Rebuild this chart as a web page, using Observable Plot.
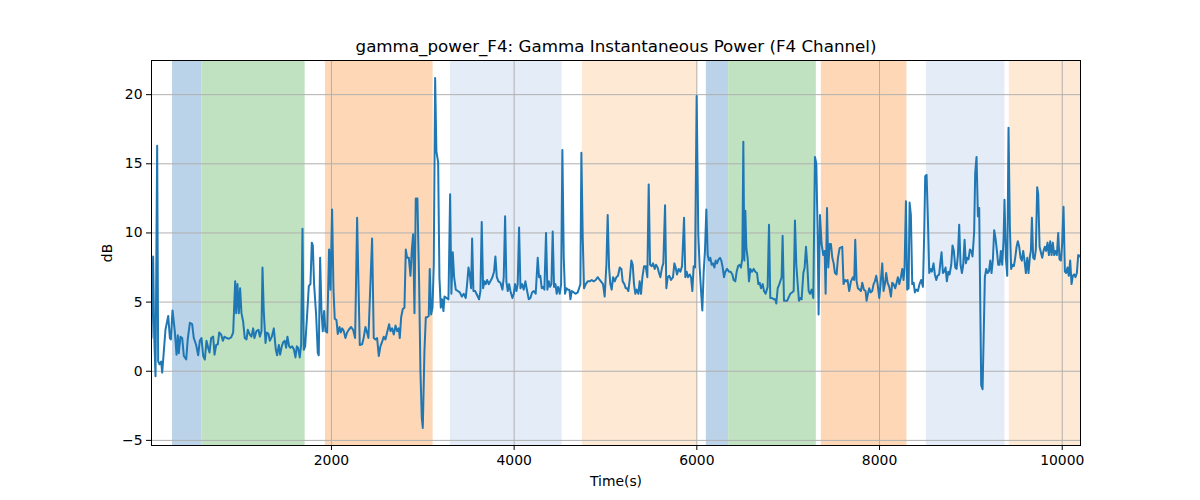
<!DOCTYPE html>
<html><head><meta charset="utf-8">
<script src="https://cdn.jsdelivr.net/npm/d3@7"></script>
<script src="https://cdn.jsdelivr.net/npm/@observablehq/plot@0.6"></script>
<style>html,body{margin:0;padding:0;background:#fff;}</style>
</head><body><div id="chart"></div>
<script>
const titleText = "gamma_power_F4: Gamma Instantaneous Power (F4 Channel)";
const xLabel = "Time(s)";
const yLabel = "dB";
const xTicks = [2000, 4000, 6000, 8000, 10000];
const yTicks = [-5, 0, 5, 10, 15, 20];

const times = [30,48,59,74,92,103,118,136,147,165,183,213,231,242,260,285,304,318,329,347,366,384,410,428,450,475,493,519,541,559,577,596,614,632,650,665,683,705,720,738,756,771,793,811,829,851,876,902,924,946,957,971,986,1000,1015,1033,1051,1070,1084,1106,1124,1143,1157,1179,1201,1216,1234,1245,1259,1278,1292,1311,1325,1347,1369,1391,1405,1424,1438,1456,1471,1489,1504,1518,1537,1551,1569,1588,1606,1621,1635,1653,1668,1683,1697,1712,1734,1752,1770,1785,1796,1810,1832,1850,1861,1876,1891,1905,1920,1934,1953,1974,1989,2007,2022,2036,2055,2069,2088,2102,2117,2135,2153,2171,2190,2215,2237,2259,2281,2292,2310,2336,2354,2372,2390,2405,2420,2445,2463,
2482,2500,2518,2536,2558,2573,2591,2609,2631,2646,2664,2682,2701,2719,2737,2748,2763,2781,2799,2814,2828,2847,2865,2879,2894,2909,2923,2941,2960,2974,2989,3000,3018,3033,3047,3065,3076,3091,3106,3120,3135,3149,3168,3182,3197,3211,3226,3237,3259,3281,3299,3313,3328,3343,3361,3383,3405,3427,3448,3470,3485,3500,3514,3529,3540,3554,3573,3587,3602,3616,3631,3645,3660,3675,3689,3704,3722,3740,3762,3780,3795,3810,3828,3850,3872,3886,3901,3915,3930,3945,3959,3981,3996,4010,4025,4039,4054,4069,4087,4105,4123,4142,4160,4178,4196,4215,4236,4258,4273,4287,4302,4317,4331,4349,4364,4379,4393,4408,4422,4437,4452,4466,4481,4499,4514,4528,4543,4557,4572,4587,4605,4616,4630,4652,4674,4696,4711,4725,4736,4751,4765,4784,4805,4827,4849,4871,4893,4915,4937,
4973,4991,5010,5024,5039,5053,5068,5083,5101,5119,5137,5156,5174,5188,5207,5221,5236,5250,5265,5283,5298,5312,5327,5342,5360,5374,5389,5404,5422,5440,5458,5473,5488,5506,5520,5539,5553,5571,5586,5601,5619,5633,5652,5666,5681,5699,5717,5739,5754,5768,5783,5801,5820,5838,5860,5874,5889,5903,5922,5936,5951,5965,5980,5998,6016,6031,6046,6060,6075,6089,6104,6119,6133,6148,6162,6177,6192,6206,6221,6239,6254,6268,6283,6297,6312,6330,6352,6370,6389,6403,6421,6436,6451,6469,6483,6498,6509,6520,6531,6542,6556,6571,6586,6604,6622,6640,6659,6673,6688,6702,6721,6735,6753,6775,6790,6804,6823,6841,6859,6870,6885,6903,6918,6928,6939,6954,6972,6990,7009,7023,7042,7060,7074,7089,7104,7118,7133,7147,7166,7180,7195,7209,7224,7239,7257,7275,7293,7308,7322,7333,7348,7366,7384,7399,7410,7425,7439,7454,7468,7483,7498,7512,7530,7545,7563,
7592,7606,7621,7636,7650,7668,7687,7709,7723,7734,7749,7763,7782,7796,7811,7829,7847,7858,7873,7887,7902,7920,7935,7949,7964,7979,7997,8011,8030,8044,8059,8073,8088,8106,8125,8139,8154,8172,8187,8201,8216,8234,8249,8263,8274,8289,8303,8318,8329,8343,8358,8373,8387,8402,8420,8438,8456,8475,8489,8500,8515,8529,8544,8559,8573,8591,8606,8621,8635,8653,8668,8679,8694,8708,8723,8737,8752,8767,8785,8799,8814,8829,8843,8858,8872,8887,8902,8916,8931,8945,8960,8974,8989,9004,9018,9036,9047,9062,9077,9091,9102,9113,9128,9139,9153,9168,9182,9197,9212,9226,9241,9255,9270,9285,9299,9314,9328,9343,9358,9368,9383,9398,9412,9427,9441,9456,9471,9485,9500,9514,9529,9544,9558,9573,9587,9602,9617,9631,9646,9657,9668,9682,9697,9711,9726,9737,9752,9766,9781,9795,9810,9824,9839,9854,9868,9883,9897,9912,9927,9941,9956,9970,9985,9999,10014,10029,10043,10058,10072,10087,10102,10116,10131,10145,10160,10175,10189,10200];

const dB = [2.4,8.3,2.7,-0.36,16.3,0.72,0.5,0.7,-0.1,1.45,3.0,4.0,2.4,2.3,4.4,2.9,1.2,2.6,1.3,2.5,2.4,1.1,0.85,2.4,3.5,3.4,2.4,1.9,1.15,2.2,2.4,1.1,0.85,2.2,1.7,1.35,2.4,2.5,1.2,1.9,1.95,2.8,2.65,2.2,2.5,2.4,2.35,2.45,2.8,6.5,4.2,6.3,4.2,6.0,4.2,3.6,2.4,2.3,3.0,2.65,2.5,3.1,2.4,2.9,3.0,2.5,2.9,7.5,4.35,2.05,2.8,2.7,2.2,2.5,3.1,1.55,1.15,1.9,1.2,1.8,2.1,2.2,1.7,2.5,1.8,1.7,1.8,1.6,1.0,1.8,1.7,1.0,1.9,10.3,1.55,1.8,4.1,6.15,6.3,9.3,9.1,6.3,4.1,1.35,1.15,8.2,4.35,2.9,4.35,2.9,2.8,8.8,5.9,11.7,5.9,3.8,3.7,2.7,3.2,2.8,3.1,2.9,2.4,2.8,3.0,3.2,3.0,2.4,11.1,7.5,1.9,1.95,2.45,3.2,2.8,2.4,5.2,9.6,2.4,
2.3,2.4,1.1,1.8,2.2,2.5,2.3,2.8,3.4,2.9,3.1,2.65,3.3,2.9,3.1,2.4,3.9,4.5,4.6,8.8,8.2,8.2,6.9,8.7,9.9,4.2,12.5,12.5,6.3,0,-3.4,-4.1,1.45,3.9,3.9,4.0,7.4,4.1,4.6,7.7,21.2,15.9,15.1,6.8,4.6,5.2,4.35,5.4,5.3,5.2,12.8,5.6,8.6,6.8,5.9,5.8,5.7,5.4,5.6,5.3,6.3,7.5,7.0,6.0,9.6,5.8,5.8,5.6,5.4,5.2,5.8,10.8,6.0,6.5,6.3,6.6,6.3,6.5,6.8,7.2,8.3,6.8,6.5,6.4,5.9,6.8,11.2,6.5,5.8,6.3,5.8,5.3,5.6,6.3,5.8,6.3,10.4,6.0,6.3,5.9,6.5,5.8,5.2,5.3,5.7,5.8,5.6,8.2,6.8,6.9,6.0,6.1,5.9,10.0,5.9,6.5,6.1,6.3,10.1,6.1,6.3,5.6,6.1,5.6,6.3,16.0,8.2,5.6,6.0,5.9,5.9,5.2,5.8,5.7,5.6,5.7,6.0,6.3,15.8,9.6,6.0,6.3,6.5,6.5,6.6,6.5,6.6,6.8,6.6,
6.3,5.4,7.7,11.3,7.5,6.3,5.9,6.8,6.5,6.8,6.9,7.5,7.4,6.5,6.3,6.0,6.0,5.8,6.6,8.0,7.7,6.3,5.6,5.9,5.6,6.5,5.6,6.8,7.6,7.6,6.8,13.5,7.7,7.6,7.8,7.4,7.7,7.5,7.1,6.8,7.5,7.8,12.0,6.0,6.8,6.9,6.6,6.8,7.8,7.5,7.0,7.4,7.2,7.6,11.1,6.8,7.2,6.8,7.0,6.8,5.8,7.6,7.5,19.9,9.9,7.5,5.8,4.4,7.2,8.7,11.7,8.4,8.0,8.2,7.7,7.8,7.5,8.0,7.8,8.1,8.2,8.0,7.5,6.8,7.2,7.4,7.2,7.2,7.0,6.6,6.5,7.2,7.6,7.7,7.5,8.2,16.6,8.0,11.6,8.9,8.2,6.5,7.4,7.2,7.4,7.2,7.1,6.3,6.4,6.0,6.3,5.8,5.6,6.1,10.6,5.3,5.3,5.2,5.2,4.9,6.0,6.3,6.6,6.8,9.8,5.1,5.1,5.1,5.4,5.6,5.7,5.8,10.9,7.7,6.3,5.1,5.3,5.2,7.1,7.5,9.0,7.7,5.8,5.6,5.9,5.3,15.5,15.0,10.1,4.1,11.3,9.2,8.4,8.7,5.6,11.8,7.5,9.2,9.2,8.2,7.8,7.1,7.0,8.2,8.9,
9.0,6.3,6.6,6.5,6.6,5.8,6.5,6.8,6.6,9.5,6.5,6.0,5.9,5.8,6.4,5.9,5.8,5.1,5.6,6.0,5.7,5.8,6.3,6.5,6.9,6.3,5.3,6.3,7.8,5.8,6.3,7.1,6.4,6.1,5.4,6.4,6.3,6.0,6.4,6.8,6.3,6.8,7.4,6.6,7.5,12.3,5.9,6.0,12.2,11.3,6.3,6.4,5.7,5.9,5.8,6.3,6.6,6.1,9.9,14.1,14.2,11.1,7.1,7.4,7.2,7.8,7.0,6.6,6.9,7.0,8.0,8.6,7.1,7.2,7.5,6.5,7.2,7.0,7.7,9.1,8.7,7.5,7.4,8.4,10.6,7.7,7.1,7.7,9.5,7.8,8.2,8.1,8.8,8.7,8.3,10.1,14.3,15.5,11.2,11.8,5.3,-1.0,-1.3,2.2,6.8,7.4,7.1,7.2,8.0,7.1,8.1,10.2,9.6,8.7,7.7,7.7,8.7,7.7,9.6,12.4,8.2,6.9,17.6,10.4,7.4,7.7,7.6,8.2,9.0,9.4,9.0,8.2,8.0,8.7,8.0,7.1,8.2,7.1,8.3,8.7,11.1,8.2,8.1,8.8,13.3,12.8,9.0,8.6,8.2,8.7,9.0,8.7,9.3,8.4,9.4,8.4,9.3,8.4,8.7,8.4,10.0,8.1,8.0,9.2,11.9,7.2,7.1,7.5,6.9,8.0,6.3,6.9,7.0,6.8,7.1,8.4,8.3,8.4];

const spanStart = [260, 585, 1934, 3302, 4747, 6104, 6348, 7363, 8512, 9420];
const spanEnd   = [585, 1712, 3113, 4525, 6005, 6348, 7308, 8300, 9373, 10200];
const spanStage = ["S1","S2","S3","S4","S5","S1","S2","S3","S4","S5"];
const stageNames = ["S1","S2","S3","S4","S5"];

const series = times.map((t, i) => ({t, v: dB[i]}));
const spans = spanStart.map((s, i) => ({x1: s, x2: spanEnd[i], stage: spanStage[i]}));
const fmt = d => d < 0 ? "\u2212" + (-d) : String(d);

const chart = Plot.plot({
  width: 1200,
  height: 500,
  marginLeft: 151,
  marginRight: 120,
  marginTop: 60,
  marginBottom: 55,
  style: {fontFamily: "'DejaVu Sans', sans-serif", fontSize: "13.9px", color: "#000", background: "#fff"},
  x: {domain: [30, 10200]},
  y: {domain: [-5.37, 22.47]},
  color: {domain: stageNames, range: ["#bad3e8", "#c0e2c0", "#fed8b6", "#e4ecf7", "#fee9d5"]},
  marks: [
    Plot.rect(spans, {x1: "x1", x2: "x2", fill: "stage", clip: true}),
    Plot.gridX(xTicks, {stroke: "#b0b0b0", strokeOpacity: 1, strokeWidth: 1}),
    Plot.gridY(yTicks, {stroke: "#b0b0b0", strokeOpacity: 1, strokeWidth: 1}),
    Plot.line(series, {x: "t", y: "v", stroke: "#1f77b4", strokeWidth: 2, clip: true}),
    Plot.frame({stroke: "#000", strokeWidth: 1}),
    Plot.axisX(xTicks, {tickSize: 5, tickPadding: 5, tickFormat: d => String(d), label: null, fontSize: 13.9}),
    Plot.axisY(yTicks, {tickSize: 5, tickPadding: 4, tickFormat: fmt, label: null, fontSize: 13.9}),
    Plot.text([titleText], {frameAnchor: "top", dy: -14, lineAnchor: "middle", fontSize: 16.7, fill: "#000"}),
    Plot.text([xLabel], {frameAnchor: "bottom", dy: 36, lineAnchor: "middle", fontSize: 13.9, fill: "#000"}),
    Plot.text([yLabel], {frameAnchor: "left", dx: -44, rotate: -90, lineAnchor: "middle", textAnchor: "middle", fontSize: 13.9, fill: "#000"})
  ]
});
document.getElementById("chart").appendChild(chart);
</script>
</body></html>
